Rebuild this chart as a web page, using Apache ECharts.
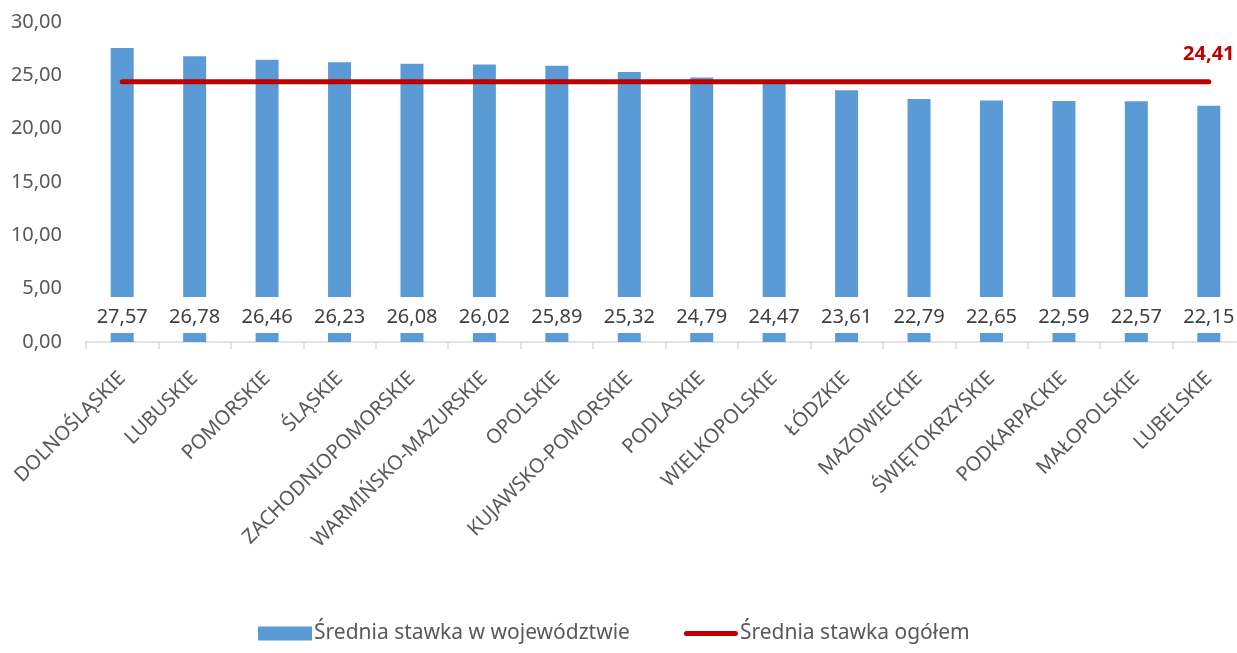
<!DOCTYPE html>
<html>
<head>
<meta charset="utf-8">
<script src="https://cdn.jsdelivr.net/npm/echarts@6/dist/echarts.min.js"></script>
<style>
  html, body { margin: 0; padding: 0; background: #fff; }
  #chart { width: 1237px; height: 653px; }
</style>
</head>
<body>
<div id="chart"></div>
<script>
// Voivodeships, sorted by average rate
const categories = [
  'DOLNOŚLĄSKIE', 'LUBUSKIE', 'POMORSKIE', 'ŚLĄSKIE', 'ZACHODNIOPOMORSKIE',
  'WARMIŃSKO-MAZURSKIE', 'OPOLSKIE', 'KUJAWSKO-POMORSKIE', 'PODLASKIE',
  'WIELKOPOLSKIE', 'ŁÓDZKIE', 'MAZOWIECKIE', 'ŚWIĘTOKRZYSKIE', 'PODKARPACKIE',
  'MAŁOPOLSKIE', 'LUBELSKIE'
];
const regionalRates = [27.57, 26.78, 26.46, 26.23, 26.08, 26.02, 25.89, 25.32,
  24.79, 24.47, 23.61, 22.79, 22.65, 22.59, 22.57, 22.15];
const overallRate = 24.41;
const overallLine = categories.map(() => overallRate);

const seriesNames = ['Średnia stawka w województwie', 'Średnia stawka ogółem'];
const yTicks = { min: 0, max: 30, interval: 5 };

const fmt = v => v.toFixed(2).replace('.', ',');
const FONT = 'Noto Sans';

// legend key for the average line: a thick rounded stroke centred in a 54x14 box
const lineKey = 'path://M0,0L0,0M54,14L54,14M2.5,4.5L51.5,4.5A2.5,2.5,0,0,1,51.5,9.5L2.5,9.5A2.5,2.5,0,0,1,2.5,4.5Z';

const chart = echarts.init(document.getElementById('chart'), null, { renderer: 'canvas' });
chart.setOption({
  animation: false,
  textStyle: { fontFamily: FONT },
  // plot area runs slightly past the right edge of the canvas
  grid: {
    left: 86, width: 1159, top: 22, bottom: 311,
    containLabel: false, outerBoundsMode: 'none'
  },
  legend: {
    bottom: 4,
    left: 253,
    itemGap: 54,
    itemWidth: 54,
    itemHeight: 14,
    textStyle: { fontFamily: FONT, fontSize: 21, color: '#595959', padding: [0, 0, 0, -3] },
    data: [
      { name: seriesNames[0], icon: 'rect' },
      { name: seriesNames[1], icon: lineKey, itemStyle: { color: '#C00000', borderWidth: 0 } }
    ]
  },
  xAxis: {
    type: 'category',
    data: categories,
    axisLine: { lineStyle: { color: '#D9D9D9', width: 1.5 } },
    axisTick: { show: true, length: 7, lineStyle: { color: '#D9D9D9', width: 1.5 } },
    axisLabel: {
      rotate: 45, interval: 0, margin: 33,
      fontFamily: FONT, fontSize: 20, color: '#595959'
    }
  },
  yAxis: {
    type: 'value',
    min: yTicks.min, max: yTicks.max, interval: yTicks.interval,
    axisLine: { show: false },
    axisTick: { show: false },
    splitLine: { show: false },
    axisLabel: {
      formatter: v => fmt(v), margin: 24,
      fontFamily: FONT, fontSize: 20, color: '#595959'
    }
  },
  series: [
    {
      name: seriesNames[0],
      type: 'bar',
      data: regionalRates,
      barWidth: 23,
      itemStyle: { color: '#5B9BD5' },
      label: {
        show: true,
        position: 'insideBottom',
        distance: 9,
        formatter: p => fmt(p.value),
        fontFamily: FONT, fontSize: 20, color: '#404040',
        backgroundColor: '#fff',
        padding: [10, 2, 6, 2]
      },
      z: 2
    },
    {
      name: seriesNames[1],
      type: 'line',
      data: overallLine,
      symbol: 'none',
      lineStyle: { color: '#C00000', width: 5, cap: 'round' },
      itemStyle: { color: '#C00000' },
      label: { show: false },
      markPoint: {
        symbol: 'circle', symbolSize: 0,
        data: [{ coord: [categories.length - 1, overallRate], value: overallRate }],
        label: {
          show: true, position: 'top', distance: 17,
          formatter: p => fmt(p.value),
          fontFamily: FONT, fontSize: 20, fontWeight: 'bold', color: '#C00000'
        }
      },
      z: 3
    }
  ]
});
</script>
</body>
</html>
